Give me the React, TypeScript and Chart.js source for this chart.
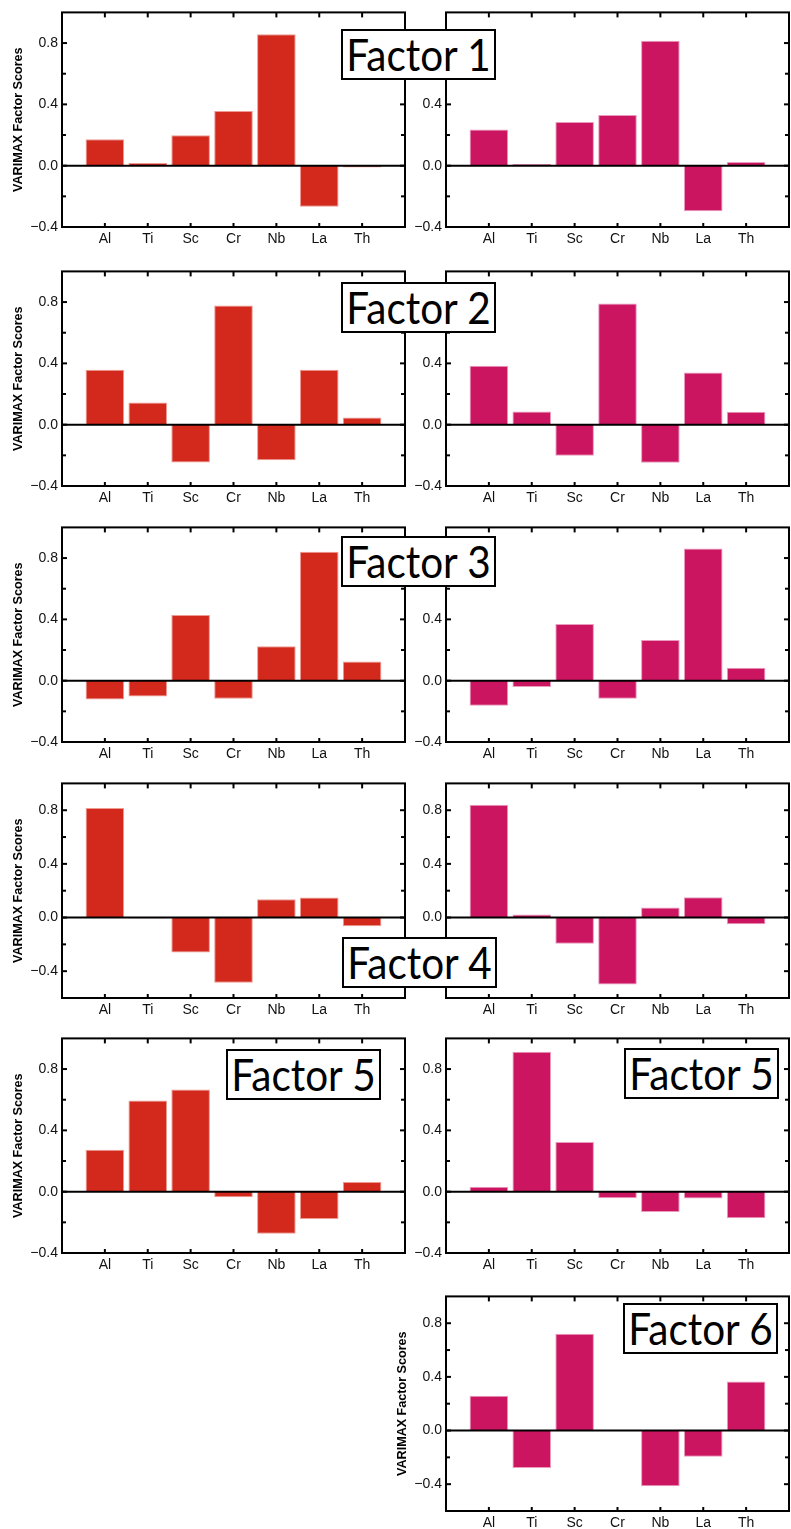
import React, { useEffect, useRef } from "react";
import { Chart, registerables } from "chart.js";

Chart.register(...registerables);

// Elements on the x axis
const ELEMENTS = ["Al", "Ti", "Sc", "Cr", "Nb", "La", "Th"];

// Labelled and minor y ticks
const Y_TICKS = [-0.4, 0, 0.4, 0.8];
const Y_MINOR = [-0.2, 0.2, 0.6];
const Y_MAX = 1.0;

// VARIMAX factor scores, left column (red) and right column (magenta)
const F1_LEFT = [0.173, 0.017, 0.199, 0.357, 0.858, -0.268, -0.012];
const F1_RIGHT = [0.236, 0.011, 0.285, 0.331, 0.815, -0.298, 0.024];
const F2_LEFT = [0.359, 0.144, -0.247, 0.778, -0.232, 0.359, 0.047];
const F2_RIGHT = [0.385, 0.086, -0.202, 0.791, -0.249, 0.34, 0.084];
const F3_LEFT = [-0.123, -0.103, 0.428, -0.118, 0.224, 0.841, 0.125];
const F3_RIGHT = [-0.163, -0.041, 0.37, -0.118, 0.265, 0.862, 0.084];
const F4_LEFT = [0.817, -0.007, -0.261, -0.487, 0.137, 0.149, -0.065];
const F4_RIGHT = [0.84, 0.022, -0.196, -0.499, 0.075, 0.152, -0.05];
const F5_LEFT = [0.274, 0.595, 0.667, -0.036, -0.274, -0.178, 0.064];
const F5_RIGHT = [0.032, 0.913, 0.324, -0.043, -0.132, -0.045, -0.173];
const F6_RIGHT = [0.259, -0.279, 0.721, 0.0, -0.415, -0.195, 0.365];

// Lower bound of the y axis for each factor row
const ROW_Y_MIN = [-0.4, -0.4, -0.4, -0.6, -0.4, -0.6];

const FACTOR_NAMES = ["Factor 1", "Factor 2", "Factor 3", "Factor 4", "Factor 5", "Factor 5", "Factor 6"];

const RED = "#D3291D";
const RED_EDGE = "#EC9A92";
const MAGENTA = "#CC1560";
const MAGENTA_EDGE = "#E99ABD";

const TICK_FONT = "'Liberation Sans', Arial, Helvetica, sans-serif";

const fmt = (v: number) => {
  const s = Math.abs(v).toFixed(1);
  return v < -1e-9 ? "\u2212" + s : s;
};

// Draws the closed frame, the zero line and inward tick marks
const framePlugin = {
  id: "frameTicks",
  afterDatasetsDraw(chart: any) {
    const { ctx, chartArea: a, scales } = chart;
    const xs = scales.x;
    const ys = scales.y;
    const seg = (x1: number, y1: number, x2: number, y2: number) => {
      ctx.beginPath();
      ctx.moveTo(x1, y1);
      ctx.lineTo(x2, y2);
      ctx.stroke();
    };
    ctx.save();
    ctx.strokeStyle = "#000";
    ctx.lineWidth = 2;
    const y0 = ys.getPixelForValue(0);
    seg(a.left, y0, a.right, y0);
    Y_TICKS.forEach((v) => {
      const py = ys.getPixelForValue(v);
      seg(a.left, py, a.left + 5, py);
      seg(a.right - 5, py, a.right, py);
    });
    Y_MINOR.forEach((v) => {
      const py = ys.getPixelForValue(v);
      seg(a.left, py, a.left + 4, py);
      seg(a.right - 4, py, a.right, py);
    });
    ELEMENTS.forEach((_, i) => {
      const px = xs.getPixelForValue(i + 1);
      seg(px, a.top, px, a.top + 5);
      seg(px, a.bottom - 4, px, a.bottom);
    });
    ctx.strokeRect(a.left, a.top, a.right - a.left, a.bottom - a.top);
    ctx.restore();
  },
};

type PanelProps = {
  values: number[];
  color: string;
  edge: string;
  left: number;
  top: number;
  width: number;
  rightPad: number;
  yMin: number;
  showTitle: boolean;
};

const CANVAS_H = 245;

function Panel({ values, color, edge, left, top, width, rightPad, yMin, showTitle }: PanelProps) {
  const ref = useRef<HTMLCanvasElement>(null);
  useEffect(() => {
    if (!ref.current) return;
    const chart = new Chart(ref.current, {
      type: "bar",
      data: {
        datasets: [
          {
            data: values.map((v, i) => ({ x: i + 1, y: v })),
            backgroundColor: color,
            borderColor: edge,
            borderWidth: 1,
            barPercentage: 0.9,
            categoryPercentage: 1,
          },
        ],
      },
      options: {
        responsive: false,
        animation: false,
        devicePixelRatio: 1,
        layout: { padding: { top: 10, right: rightPad, left: 0, bottom: 0 } },
        plugins: { legend: { display: false }, tooltip: { enabled: false } },
        scales: {
          x: {
            type: "linear",
            offset: false,
            min: 0,
            max: 8,
            grid: { display: false, drawTicks: false },
            border: { display: false },
            afterBuildTicks: (s: any) => {
              s.ticks = ELEMENTS.map((_, i) => ({ value: i + 1 }));
            },
            afterFit: (s: any) => {
              s.height = 18;
            },
            ticks: {
              autoSkip: false,
              maxRotation: 0,
              padding: 4,
              color: "#111",
              font: { family: TICK_FONT, size: 14 },
              callback: (v: any) => ELEMENTS[Number(v) - 1] ?? "",
            },
          },
          y: {
            type: "linear",
            min: yMin,
            max: Y_MAX,
            grid: { display: false, drawTicks: false },
            border: { display: false },
            afterBuildTicks: (s: any) => {
              s.ticks = Y_TICKS.map((v) => ({ value: v }));
            },
            afterFit: (s: any) => {
              s.width = 62;
            },
            ticks: {
              padding: 4,
              color: "#111",
              font: { family: TICK_FONT, size: 14 },
              callback: (v: any) => fmt(Number(v)),
            },
            title: {
              display: showTitle,
              text: "VARIMAX Factor Scores",
              color: "#000",
              font: { family: TICK_FONT, size: 12.6, weight: "bold" },
              padding: { top: 10.5, bottom: 0 },
            },
          },
        },
      },
      plugins: [framePlugin],
    } as any);
    return () => chart.destroy();
  }, []);
  return (
    <canvas
      ref={ref}
      width={width}
      height={CANVAS_H}
      style={{ position: "absolute", left, top, width, height: CANVAS_H }}
    />
  );
}

// Plot-area top edge of each row
const ROW_TOPS = [10, 269, 525, 781, 1036, 1294];

function FactorBox({ text, left, top }: { text: string; left: number; top: number }) {
  return (
    <div
      style={{
        position: "absolute",
        left,
        top,
        width: 155,
        height: 51,
        boxSizing: "border-box",
        border: "2px solid #000",
        background: "#fff",
        display: "flex",
        alignItems: "center",
        justifyContent: "center",
        fontFamily: "Lato, 'Open Sans', sans-serif",
        fontSize: 44,
        lineHeight: "47px",
        color: "#000",
        whiteSpace: "nowrap",
        overflow: "hidden",
      }}
    >
      <span style={{ display: "inline-block", transform: "scaleX(0.92)" }}>{text}</span>
    </div>
  );
}

export default function App() {
  const leftSets = [F1_LEFT, F2_LEFT, F3_LEFT, F4_LEFT, F5_LEFT];
  const rightSets = [F1_RIGHT, F2_RIGHT, F3_RIGHT, F4_RIGHT, F5_RIGHT, F6_RIGHT];
  return (
    <div
      style={{
        position: "absolute",
        left: 0,
        top: 0,
        width: 791,
        height: 1529,
        background: "#fff",
        overflow: "hidden",
      }}
    >
      {leftSets.map((vals, r) => (
        <Panel
          key={"l" + r}
          values={vals}
          color={RED}
          edge={RED_EDGE}
          left={0}
          top={ROW_TOPS[r] - 10}
          width={410}
          rightPad={5}
          yMin={ROW_Y_MIN[r]}
          showTitle={true}
        />
      ))}
      {rightSets.map((vals, r) => (
        <Panel
          key={"r" + r}
          values={vals}
          color={MAGENTA}
          edge={MAGENTA_EDGE}
          left={384}
          top={ROW_TOPS[r] - 10}
          width={407}
          rightPad={2}
          yMin={ROW_Y_MIN[r]}
          showTitle={r === 5}
        />
      ))}
      <FactorBox text={FACTOR_NAMES[0]} left={341} top={29} />
      <FactorBox text={FACTOR_NAMES[1]} left={341} top={282} />
      <FactorBox text={FACTOR_NAMES[2]} left={341} top={536} />
      <FactorBox text={FACTOR_NAMES[3]} left={342} top={937} />
      <FactorBox text={FACTOR_NAMES[4]} left={226} top={1049} />
      <FactorBox text={FACTOR_NAMES[5]} left={624} top={1048} />
      <FactorBox text={FACTOR_NAMES[6]} left={623} top={1303} />
    </div>
  );
}
